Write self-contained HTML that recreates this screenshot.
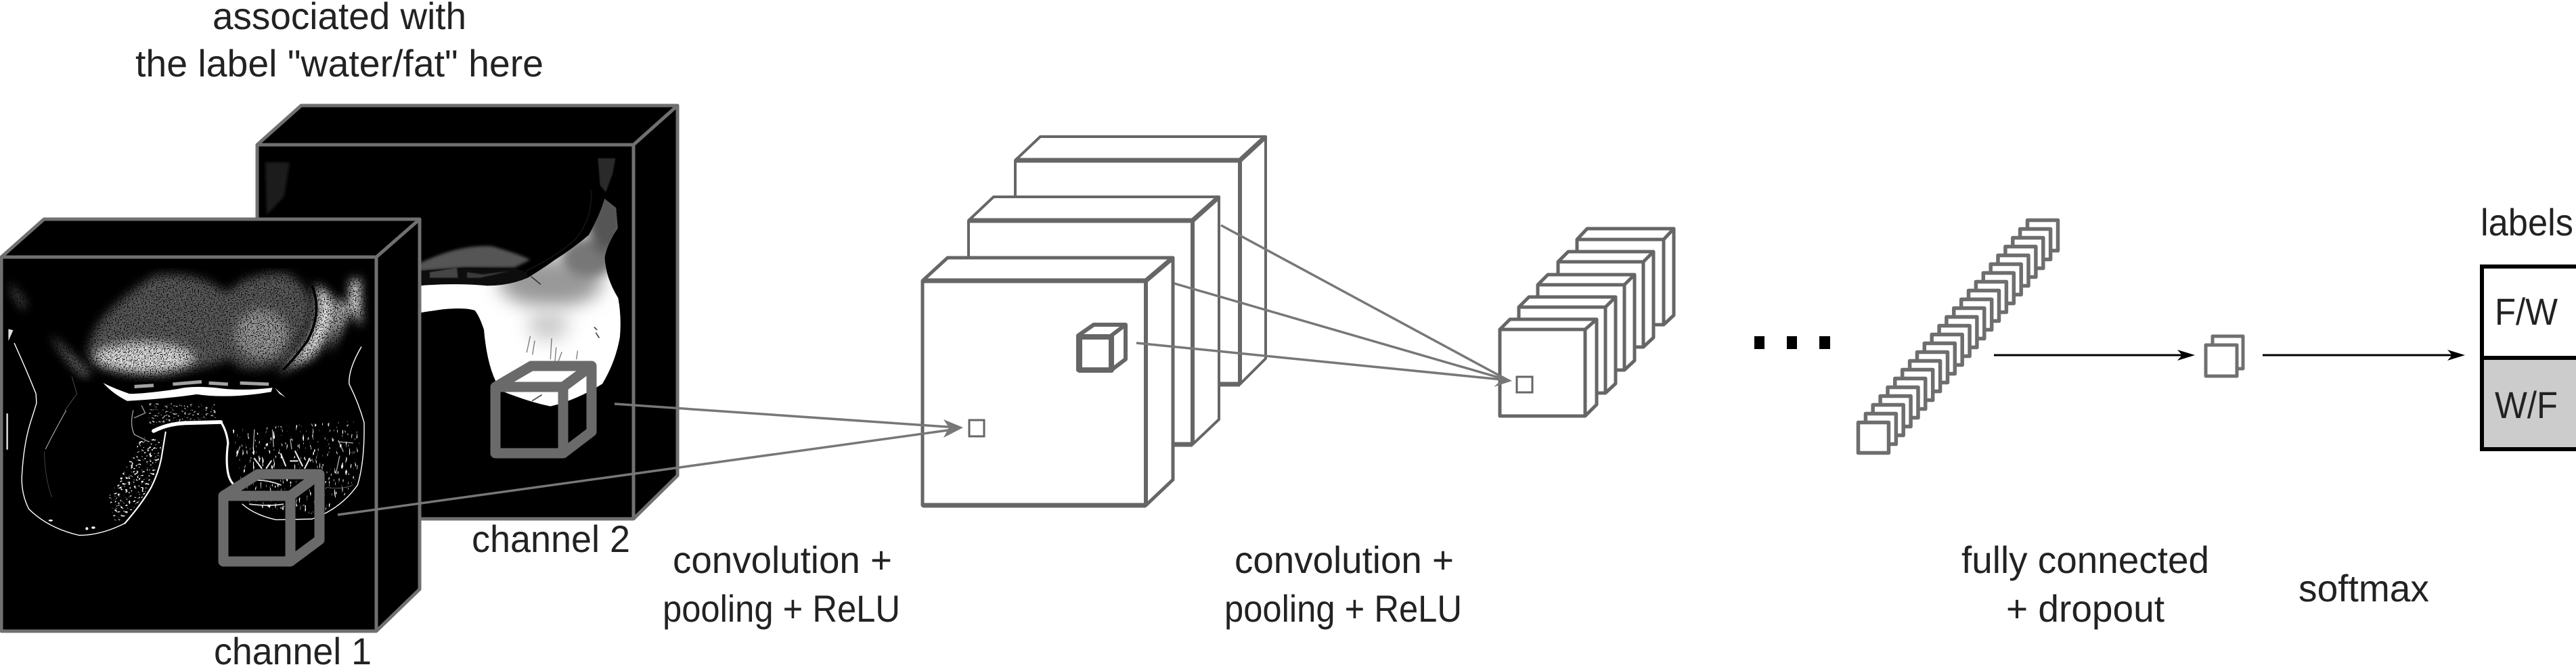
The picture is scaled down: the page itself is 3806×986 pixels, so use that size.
<!DOCTYPE html>
<html><head><meta charset="utf-8"><style>
html,body{margin:0;padding:0;background:#fff;width:3806px;height:986px;overflow:hidden}
svg{display:block}
text{font-family:"Liberation Sans",sans-serif;font-size:56px;fill:#222}
</style></head><body>
<svg width="3806" height="986" viewBox="0 0 3806 986" xmlns="http://www.w3.org/2000/svg">
<defs>
<filter id="b1" x="-20%" y="-20%" width="140%" height="140%"><feGaussianBlur stdDeviation="2"/></filter>
<filter id="b3" x="-20%" y="-20%" width="140%" height="140%"><feGaussianBlur stdDeviation="6"/></filter>
<filter id="b8" x="-50%" y="-50%" width="200%" height="200%"><feGaussianBlur stdDeviation="40"/></filter>
<filter id="b4" x="-50%" y="-50%" width="200%" height="200%"><feGaussianBlur stdDeviation="22"/></filter>
<filter id="sp" x="-5%" y="-5%" width="110%" height="110%" color-interpolation-filters="sRGB">
<feGaussianBlur in="SourceGraphic" stdDeviation="20" result="s"/>
<feTurbulence type="fractalNoise" baseFrequency="0.2" numOctaves="2" seed="4" result="n"/>
<feColorMatrix in="n" type="matrix" values="0 0 0 0 1 0 0 0 0 1 0 0 0 0 1 5 0 0 0 -1.5" result="m"/>
<feComposite in="s" in2="m" operator="in"/>
</filter>
<filter id="sp2" x="0" y="0" width="100%" height="100%" color-interpolation-filters="sRGB">
<feTurbulence type="fractalNoise" baseFrequency="0.09 0.12" numOctaves="2" seed="9" result="n"/>
<feColorMatrix in="n" type="matrix" values="0 0 0 0 1 0 0 0 0 1 0 0 0 0 1 14 0 0 0 -8.6" result="m"/>
<feComposite in="SourceGraphic" in2="m" operator="in"/>
</filter>
<filter id="sp3" x="0" y="0" width="100%" height="100%" color-interpolation-filters="sRGB">
<feTurbulence type="fractalNoise" baseFrequency="0.13 0.035" numOctaves="2" seed="21" result="n"/>
<feColorMatrix in="n" type="matrix" values="0 0 0 0 1 0 0 0 0 1 0 0 0 0 1 14 0 0 0 -9.2" result="m"/>
<feComposite in="SourceGraphic" in2="m" operator="in"/>
</filter>
<clipPath id="c2"><path d="M300,625 Q450,612 600,625 Q700,625 780,590 Q860,540 900,510 Q980,460 1050,400 Q1100,310 1120,240 L1170,280 L1178,370 Q1130,440 1120,500 Q1125,590 1180,680 Q1195,760 1188,850 Q1170,960 1110,1060 Q1000,1130 880,1160 Q780,1140 660,1090 Q600,1000 585,820 Q565,760 545,735 Q500,720 400,730 L300,745Z"/></clipPath>
</defs>

<!-- channel 2 block -->
<g stroke="#707070" stroke-width="5" stroke-linejoin="round">
<polygon points="380,214 445,156 1001,156 1001,703 936,767 380,767" fill="#000"/>
<polyline points="380,214 936,214 1001,156" fill="none"/>
<line x1="936" y1="214" x2="936" y2="767"/>
</g>
<path d="M392,240 L428,240 L420,290 L394,318Z" fill="#1c1c1c" filter="url(#b1)"/>
<g transform="translate(520,214) scale(.33333)">
<path d="M1090,60 L1168,60 L1155,130 L1125,210 L1100,180Z" fill="#2a2a2a" filter="url(#b1)"/>
<path d="M300,525 Q480,440 620,450 Q730,480 790,510 L720,545 L500,545 L300,560Z" fill="#555" filter="url(#b3)"/>
<path d="M300,560 L500,545 L720,548 L775,565 L780,595 Q680,625 600,625 Q450,610 300,622Z" fill="#0d0d0d"/>
<path d="M345,565 L465,545 L470,590 L345,590Z" fill="#444" filter="url(#b1)"/>
<path d="M510,565 L580,575 L700,560 L570,590 L510,590Z" fill="#3a3a3a" filter="url(#b1)"/>
<g clip-path="url(#c2)">
<rect x="290" y="200" width="920" height="980" fill="#fff"/>
<ellipse cx="880" cy="610" rx="230" ry="110" fill="#999" filter="url(#b8)"/>
<ellipse cx="1050" cy="500" rx="120" ry="90" fill="#777" filter="url(#b4)"/>
<ellipse cx="1130" cy="330" rx="90" ry="150" fill="#555" filter="url(#b4)"/>
<ellipse cx="870" cy="800" rx="90" ry="70" fill="#ccc" filter="url(#b8)"/>
<g stroke="#222" fill="none" stroke-linecap="round">
<path d="M790,850 L775,920 M810,870 L800,930 M885,860 L880,950 M905,900 L900,960 M930,920 L915,960 M1000,915 L995,950" stroke-width="4" opacity=".6"/>
<path d="M795,585 L835,618 M1075,810 L1085,820 M1082,835 L1095,855 M800,1135 L840,1110" stroke-width="5" opacity=".85"/>
</g>
</g>
<path d="M1060,200 Q1070,320 990,420 Q900,500 770,560" fill="none" stroke="#111" stroke-width="6"/>
</g>
<!-- cube 2 -->
<g fill="none" stroke="#6a6a6a" stroke-width="15" stroke-linejoin="round">
<rect x="732" y="572" width="100" height="98"/>
<polyline points="732,572 785,541 874,541 874,638 832,670"/>
<line x1="832" y1="572" x2="874" y2="541"/>
</g>

<!-- channel 1 block -->
<g stroke="#707070" stroke-width="5" stroke-linejoin="round">
<polygon points="2,380 65,324 620,324 620,871 556,933 2,933" fill="#000"/>
<polyline points="2,380 556,380 620,324" fill="none"/>
<line x1="556" y1="380" x2="556" y2="933"/>
</g>
<g transform="translate(0,380) scale(.35461)">
<!-- blob -->
<g filter="url(#sp)">
<path d="M365,400 Q380,300 450,230 Q550,130 650,75 Q800,60 900,120 Q950,170 990,110 Q1100,55 1200,70 Q1300,130 1300,230 Q1270,330 1190,430 Q1100,480 1000,460 Q950,400 920,440 Q800,470 660,495 Q480,490 380,430Z" fill="#5c5c5c"/>
<ellipse cx="600" cy="420" rx="210" ry="65" fill="#e0e0e0"/>
<ellipse cx="1090" cy="320" rx="110" ry="100" fill="#9a9a9a"/>
<path d="M1310,115 Q1390,140 1395,230 Q1380,330 1300,420 L1150,490 Q1270,400 1320,250 Q1325,160 1310,115Z" fill="#eee"/>
<path d="M1400,170 Q1450,190 1450,240 Q1420,320 1365,400 Q1400,300 1410,230Z" fill="#ddd"/>
<path d="M1460,95 L1500,90 L1505,290 L1455,210Z" fill="#fff"/>
<path d="M220,330 Q290,400 380,490 L350,500 Q280,440 220,340Z" fill="#888"/>
<path d="M45,110 L105,190 L100,225 L45,135Z" fill="#777"/>
</g>
<path d="M1300,120 Q1345,230 1280,350 Q1230,420 1180,470" fill="none" stroke="#000" stroke-width="10"/>
<path d="M35,300 L55,305 L35,350Z" fill="#ddd"/>
<path d="M430,525 Q470,570 530,600 Q700,590 820,572 Q950,592 1130,562 L1135,545 Q1000,560 900,545 Q800,535 740,550 Q600,570 540,570 Q480,550 430,525Z" fill="#fff"/>
<path d="M560,540 L640,535 M720,530 L840,520 M870,525 L950,530 M1000,525 L1120,530" stroke="#ccc" stroke-width="14" fill="none" opacity=".8"/>
<path d="M1145,545 L1190,585 L1165,570Z" fill="#fff"/>
<!-- rim lines -->
<g fill="none" stroke="#fff" stroke-linecap="round" stroke-linejoin="round">
<path d="M640,725 Q700,695 770,692 L920,688" stroke-width="16"/>
<path d="M925,695 Q945,730 950,775 Q940,850 950,900 Q955,930 975,950" stroke-width="9"/>
<path d="M690,730 Q680,790 672,840 Q660,900 630,960 Q590,1030 520,1110" stroke-width="6"/>
<path d="M520,1110 Q420,1160 330,1160 Q200,1130 120,1050 Q85,980 92,900 Q100,770 130,680 L152,610 L150,570 Q110,470 60,360" stroke-width="4"/>
<path d="M1010,1030 Q1060,1075 1150,1095 L1300,1092 Q1420,1050 1490,950 Q1520,850 1517,690 Q1495,610 1455,530 Q1450,470 1505,375" stroke-width="4"/>
<path d="M30,655 L30,800" stroke-width="7" stroke="#ddd"/>
<path d="M275,640 Q230,720 190,800" stroke-width="3" opacity=".7"/>
<path d="M185,810 Q185,910 215,1000" stroke-width="2" opacity=".35"/>
<path d="M300,500 L320,570 L270,640" stroke-width="2" opacity=".4"/>
<path d="M555,640 Q540,700 560,740 L620,770 M590,620 L605,650 L560,670" stroke-width="4" opacity=".6"/>
<path d="M1060,720 L1055,800 M1135,720 L1140,790 M1210,760 L1215,800 M1410,765 L1430,810 M1410,770 L1470,775 M1000,790 L985,830 M1415,830 L1400,900" stroke-width="4" opacity=".65"/>
<path d="M1060,840 L1090,880 M1130,850 L1110,880 M1170,820 L1190,870 M1230,810 L1260,870 M1290,840 L1270,880 M1210,850 L1240,850" stroke-width="6" opacity=".9"/>
<path d="M1070,930 Q1120,930 1170,950 M1040,1030 Q1120,1040 1180,1030" stroke-width="5" opacity=".85"/>
<path d="M1360,960 Q1430,970 1470,950" stroke-width="2" opacity=".5"/>
</g>
<ellipse cx="211" cy="1098" rx="9" ry="4" fill="#fff"/><ellipse cx="362" cy="1132" rx="6" ry="6" fill="#fff"/><ellipse cx="389" cy="1128" rx="8" ry="5" fill="#fff"/>
<g filter="url(#sp2)">
<path d="M680,760 Q660,880 620,960 Q570,1050 480,1110 L450,1000 Q520,900 590,750Z" fill="#fff"/>
<path d="M620,610 L900,610 L900,670 L620,700Z" fill="#aaa"/>
</g>
<g filter="url(#sp3)">
<path d="M970,720 L1500,680 L1500,900 L1430,1000 L1360,1060 L1200,1090 L1010,1010 Z" fill="#fff"/>
</g>
</g>
<!-- cube 1 -->
<g fill="none" stroke="#6a6a6a" stroke-width="15" stroke-linejoin="round">
<rect x="330" y="733" width="99" height="97"/>
<polyline points="330,733 381,701 472,701 472,798 429,830"/>
<line x1="429" y1="733" x2="472" y2="701"/>
</g>

<!-- conv block 1 -->
<g stroke="#666" stroke-linejoin="round" fill="#fff">
<polygon points="1500,237 1537,202 1870,202 1870,530 1832,568 1500,568" stroke-width="4"/>
<polyline points="1500,237 1832,237 1870,202" fill="none" stroke-width="7"/>
<line x1="1832" y1="237" x2="1832" y2="568" stroke-width="6"/>
<line x1="1800" y1="568" x2="1832" y2="568" stroke-width="7"/>
<polygon points="1431,326 1468,291 1801,291 1801,620 1762,657 1431,657" stroke-width="4"/>
<polyline points="1431,326 1762,326 1801,291" fill="none" stroke-width="7"/>
<line x1="1762" y1="326" x2="1762" y2="657" stroke-width="6"/>
<line x1="1730" y1="657" x2="1762" y2="657" stroke-width="7"/>
<polygon points="1363,415 1400,381 1733,381 1733,709 1693,747 1363,747" stroke-width="5"/>
<polyline points="1363,415 1693,415 1733,381" fill="none" stroke-width="7"/>
<line x1="1693" y1="415" x2="1693" y2="747" stroke-width="6"/>
<line x1="1363" y1="747" x2="1693" y2="747" stroke-width="7"/>
</g>
<!-- small cube -->
<g stroke="#666" fill="#fff" stroke-linejoin="round">
<polygon points="1593,496 1616,480 1663,480 1663,531 1642,547 1593,547" stroke-width="6"/>
<rect x="1595" y="498" width="47" height="49" stroke-width="8" fill="none"/>
<line x1="1642" y1="496" x2="1663" y2="480" stroke-width="6"/>
</g>
<rect x="1432" y="621" width="22" height="24" fill="#fff" stroke="#666" stroke-width="3"/>

<!-- small stack -->
<g stroke="#666" fill="#fff" stroke-linejoin="round" stroke-width="5">
<polygon points="2330,354 2345,338 2473,338 2473,466 2458,480 2330,480"/><polyline points="2330,354 2458,354 2473,338" fill="none"/><line x1="2458" y1="354" x2="2458" y2="480"/>
<polygon points="2302,387 2317,372 2443,372 2443,499 2428,513 2302,513"/><polyline points="2302,387 2428,387 2443,372" fill="none"/><line x1="2428" y1="387" x2="2428" y2="513"/>
<polygon points="2272,421 2287,406 2415,406 2415,533 2400,547 2272,547"/><polyline points="2272,421 2400,421 2415,406" fill="none"/><line x1="2400" y1="421" x2="2400" y2="547"/>
<polygon points="2244,454 2259,439 2387,439 2387,567 2372,581 2244,581"/><polyline points="2244,454 2372,454 2387,439" fill="none"/><line x1="2372" y1="454" x2="2372" y2="581"/>
<polygon points="2216,487 2231,472 2359,472 2359,598 2342,615 2216,615"/><polyline points="2216,487 2342,487 2359,472" fill="none"/><line x1="2342" y1="487" x2="2342" y2="615"/>
</g>
<rect x="2241" y="557" width="23" height="23" fill="#fff" stroke="#666" stroke-width="3"/>

<!-- gray connectors -->
<g stroke="#777" stroke-width="3.5" fill="none">
<line x1="908" y1="597" x2="1415" y2="632"/>
<line x1="499" y1="761" x2="1415" y2="634"/>
<line x1="1679" y1="507" x2="2228" y2="562"/>
<line x1="1735" y1="419" x2="2228" y2="562"/>
<line x1="1804" y1="333" x2="2228" y2="562"/>
</g>
<polygon points="1423,632 1394,620 1402,632 1394,647" fill="#777"/>
<polygon points="2234,563 2211,551 2218,562 2207,572" fill="#777"/>

<!-- dots -->
<rect x="2592" y="497" width="15" height="19" fill="#000"/>
<rect x="2640" y="497" width="15" height="19" fill="#000"/>
<rect x="2688" y="497" width="16" height="19" fill="#000"/>

<!-- FC stack -->
<g fill="#fff" stroke="#6e6e6e" stroke-width="5.5" stroke-linejoin="round">
<rect x="2995.5" y="325.5" width="45" height="45"/><rect x="2984.6" y="338.5" width="45" height="45"/><rect x="2973.8" y="351.5" width="45" height="45"/><rect x="2962.9" y="364.5" width="45" height="45"/><rect x="2952" y="377.5" width="45" height="45"/><rect x="2941.2" y="390.5" width="45" height="45"/><rect x="2930.3" y="403.5" width="45" height="45"/><rect x="2919.4" y="416.5" width="45" height="45"/><rect x="2908.5" y="429.5" width="45" height="45"/><rect x="2897.7" y="442.5" width="45" height="45"/><rect x="2886.8" y="455.5" width="45" height="45"/><rect x="2875.9" y="468.5" width="45" height="45"/><rect x="2865.1" y="481.5" width="45" height="45"/><rect x="2854.2" y="494.5" width="45" height="45"/><rect x="2843.3" y="507.5" width="45" height="45"/><rect x="2832.5" y="520.5" width="45" height="45"/><rect x="2821.6" y="533.5" width="45" height="45"/><rect x="2810.7" y="546.5" width="45" height="45"/><rect x="2799.8" y="559.5" width="45" height="45"/><rect x="2789" y="572.5" width="45" height="45"/><rect x="2778.1" y="585.5" width="45" height="45"/><rect x="2767.2" y="598.5" width="45" height="45"/><rect x="2756.4" y="611.5" width="45" height="45"/><rect x="2745.5" y="624.5" width="45" height="45"/>
</g>
<g fill="#fff" stroke="#707070" stroke-width="5" stroke-linejoin="round">
<rect x="3269" y="497" width="45" height="48"/>
<rect x="3259" y="510" width="46" height="46"/>
</g>

<!-- black arrows -->
<g stroke="#000" stroke-width="3" fill="none"><line x1="2946" y1="525" x2="3236" y2="525"/><line x1="3343" y1="525" x2="3635" y2="525"/></g>
<polygon points="3243,525 3217,517 3224,525 3217,533" fill="#000"/>
<polygon points="3642,525 3616,517 3623,525 3616,533" fill="#000"/>

<!-- label box -->
<rect x="3666" y="394" width="140" height="137" fill="#fff"/>
<rect x="3666" y="530" width="140" height="135" fill="#ccc"/>
<path d="M3806 394 H3667 V664 H3806 M3667 529 H3806" fill="none" stroke="#000" stroke-width="6"/>

<!-- text -->
<text x="314" y="43" textLength="375" lengthAdjust="spacingAndGlyphs">associated with</text>
<text x="200" y="113" textLength="603" lengthAdjust="spacingAndGlyphs">the label "water/fat" here</text>
<text x="697" y="816" textLength="234" lengthAdjust="spacingAndGlyphs">channel 2</text>
<text x="316" y="982" textLength="233" lengthAdjust="spacingAndGlyphs">channel 1</text>
<text x="994" y="847" textLength="324" lengthAdjust="spacingAndGlyphs">convolution +</text>
<text x="979" y="919" textLength="351" lengthAdjust="spacingAndGlyphs">pooling + ReLU</text>
<text x="1824" y="847" textLength="324" lengthAdjust="spacingAndGlyphs">convolution +</text>
<text x="1809" y="919" textLength="351" lengthAdjust="spacingAndGlyphs">pooling + ReLU</text>
<text x="2898" y="847" textLength="366" lengthAdjust="spacingAndGlyphs">fully connected</text>
<text x="2964" y="919" textLength="234" lengthAdjust="spacingAndGlyphs">+ dropout</text>
<text x="3396" y="889" textLength="193" lengthAdjust="spacingAndGlyphs">softmax</text>
<text x="3665" y="348" textLength="137" lengthAdjust="spacingAndGlyphs">labels</text>
<text x="3686" y="480" textLength="93" lengthAdjust="spacingAndGlyphs">F/W</text>
<text x="3686" y="618" textLength="93" lengthAdjust="spacingAndGlyphs">W/F</text>
</svg>
</body></html>
